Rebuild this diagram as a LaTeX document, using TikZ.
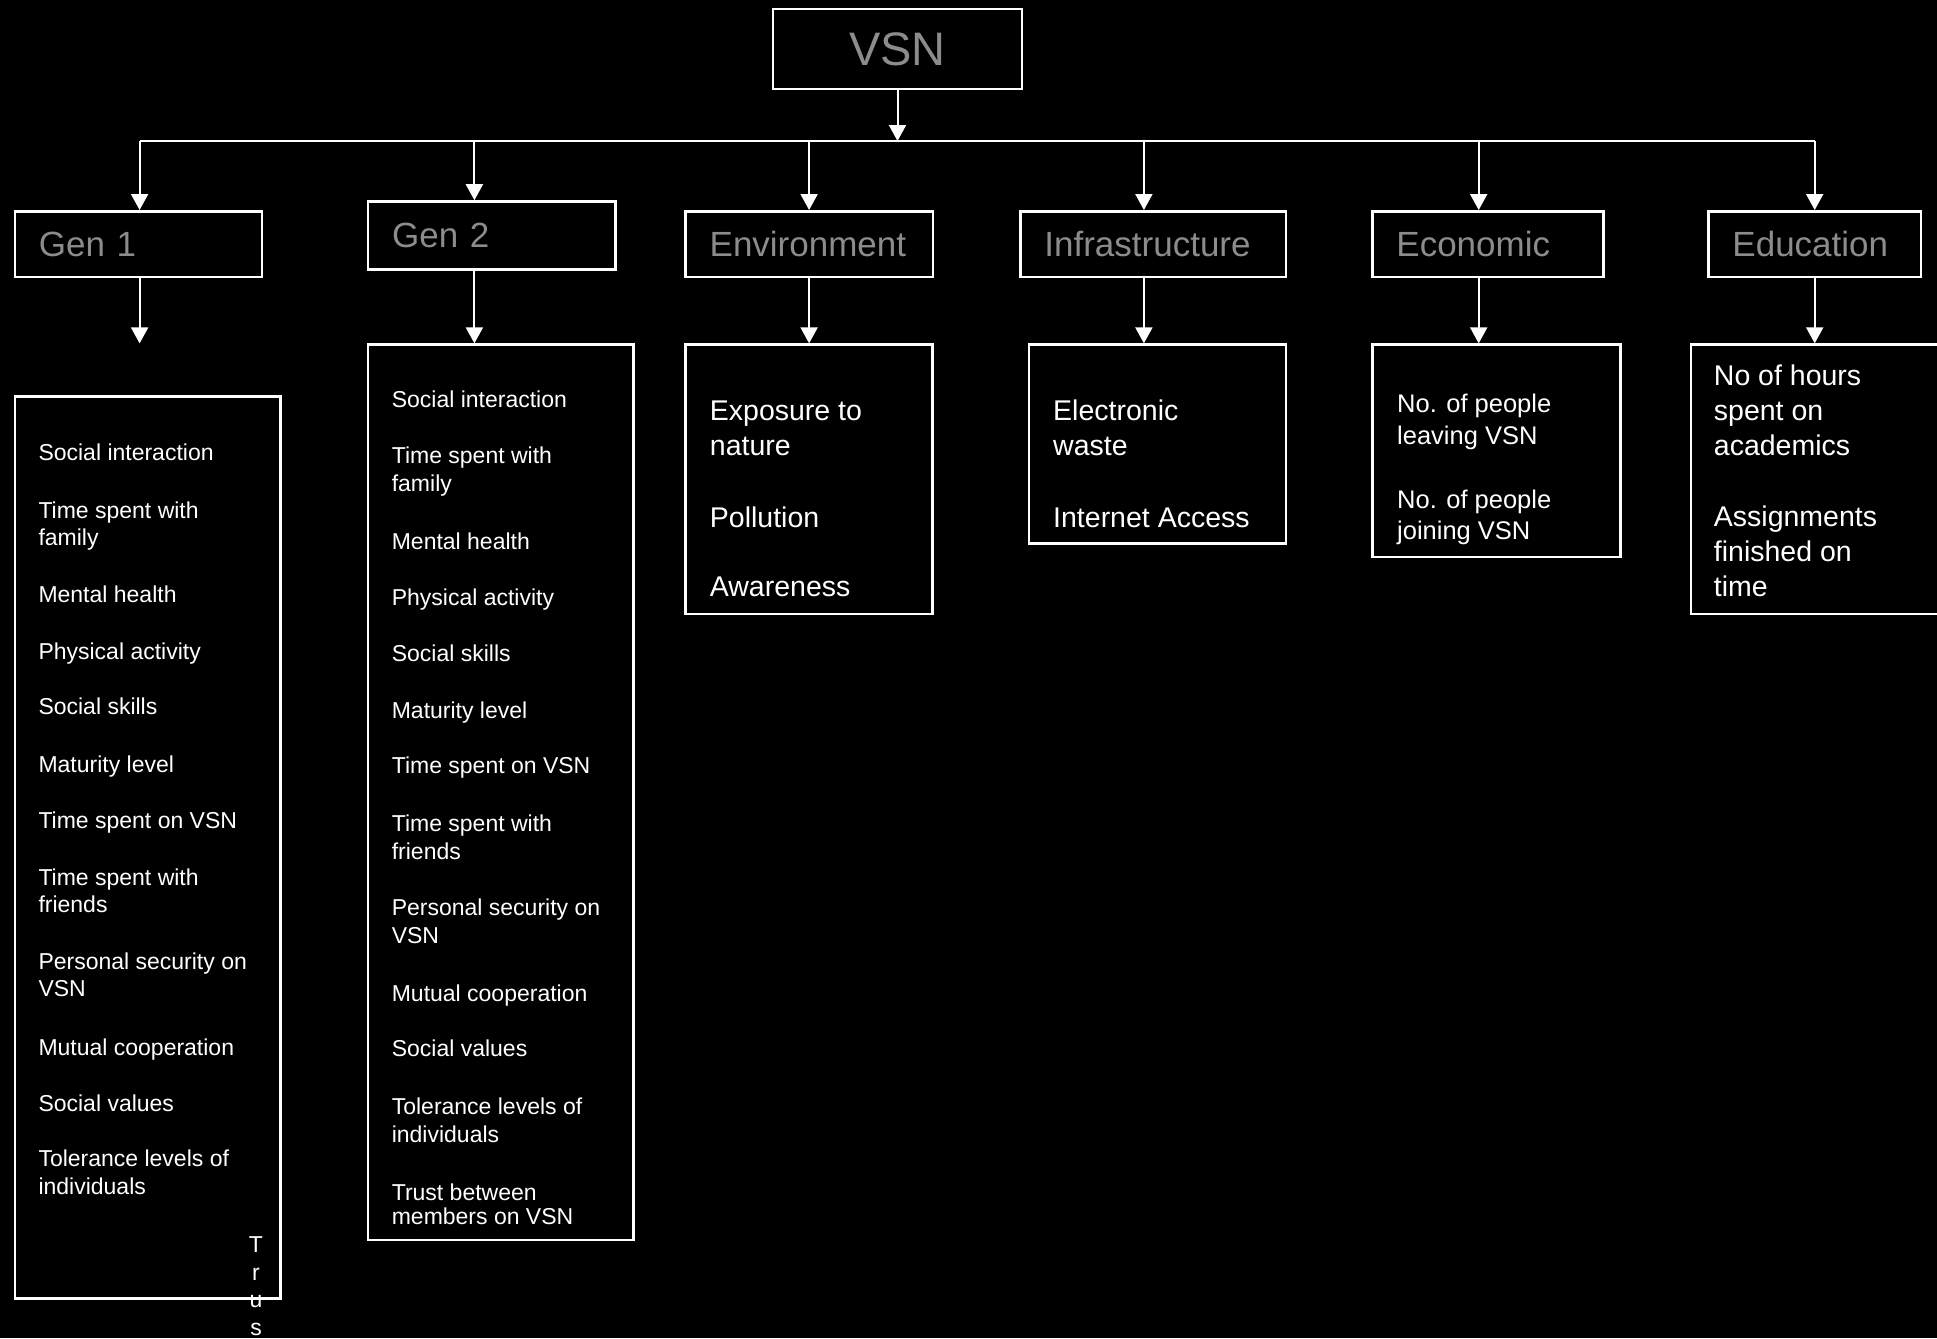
\documentclass[tikz,border=0pt]{standalone}
\usepackage{fontspec}
\newfontfamily\arial{Liberation Sans}
\usetikzlibrary{arrows.meta}
\definecolor{headgray}{HTML}{8C8C8C}
\begin{document}
\begin{tikzpicture}[x=1pt,y=-1pt,
    box/.style={draw=white, line width=2.5pt, inner sep=0pt},
    head/.style={box, minimum height=65.5pt, inner xsep=24pt, align=left, text=headgray, font=\arial\fontsize{35}{40}\selectfont},
    conn/.style={draw=white, line width=2pt, -{Triangle[width=17pt,length=16pt]}},
    item/.style={anchor=base west, inner sep=0pt, text=white, font=\arial\fontsize{23}{27.7}\selectfont},
    bigitem/.style={item, font=\arial\fontsize{28.5}{35}\selectfont},
    ecoitem/.style={item, font=\arial\fontsize{25.5}{31}\selectfont}]
        % background
        \fill[black] (0,0) rectangle (1937,1338);
        \clip (0,0) rectangle (1937,1338);
        % top box
        \node[box, minimum width=249pt, minimum height=80pt, text=headgray, font=\arial\fontsize{47}{50}\selectfont] (vsn) at (897.5,49) {VSN};
        % headers
        \node[head, text width=199.1pt] (gen1) at (138.4,244) {Gen 1};
        \node[head, text width=199.1pt, minimum height=67.9pt] (gen2) at (491.7,235.4) {Gen 2};
        \node[head, text width=199.1pt] (env) at (809.2,244) {Environment};
        \node[head, text width=217.6pt] (infra) at (1153.2,244) {Infrastructure};
        \node[head, text width=183pt] (econ) at (1487.9,244) {Economic};
        \node[head, text width=164.5pt] (edu) at (1814.7,244) {Education};
        % list boxes
        \node[box, minimum width=265.6pt, minimum height=901.8pt] (gen1list) at (147.6,847.4) {};
        \node[box, minimum width=265.6pt, minimum height=895.3pt] (gen2list) at (500.9,792.25) {};
        \node[box, minimum width=247.1pt, minimum height=269.3pt] (envlist) at (809.15,479.25) {};
        \node[box, minimum width=257pt, minimum height=198.9pt] (infralist) at (1157.5,444.05) {};
        \node[box, minimum width=248.3pt, minimum height=212.5pt] (econlist) at (1496.55,450.85) {};
        \node[box, minimum width=258.9pt, minimum height=269.3pt] (edulist) at (1820.55,479.25) {};
        % bus line
        \coordinate (b1) at (139.6,141);\coordinate (b2) at (474.4,141);\coordinate (b3) at (809.1,141);
        \coordinate (b4) at (1143.9,141);\coordinate (b5) at (1478.7,141);\coordinate (b6) at (1814.7,141);
        \coordinate (g1end) at (139.6,343.4);
        \draw[white, line width=2pt] (b1) -- (b6);
        \draw[conn] (vsn.south) -- (vsn.south |- b1);
        % arrows into headers
        \draw[conn] (b1) -- (b1 |- gen1.north);\draw[conn] (b2) -- (b2 |- gen2.north);
        \draw[conn] (b3) -- (b3 |- env.north);\draw[conn] (b4) -- (b4 |- infra.north);
        \draw[conn] (b5) -- (b5 |- econ.north);\draw[conn] (b6) -- (b6 |- edu.north);
        % arrows into lists
        \draw[conn] (b1 |- gen1.south) -- (g1end);\draw[conn] (b2 |- gen2.south) -- (b2 |- gen2list.north);
        \draw[conn] (b3 |- env.south) -- (b3 |- envlist.north);\draw[conn] (b4 |- infra.south) -- (b4 |- infralist.north);
        \draw[conn] (b5 |- econ.south) -- (b5 |- econlist.north);\draw[conn] (b6 |- edu.south) -- (b6 |- edulist.north);
        % gen 1 items
        \node[item] (g1a) at (38.3,460.4) {Social interaction};
        \node[item] (g1b) at (38.3,518.2) {Time spent with};
        \node[item] (g1c) at (38.3,545.9) {family};
        \node[item] (g1d) at (38.3,602.2) {Mental health};
        \node[item] (g1e) at (38.3,659.0) {Physical activity};
        \node[item] (g1f) at (38.3,714.6) {Social skills};
        \node[item] (g1g) at (38.3,772.7) {Maturity level};
        \node[item] (g1h) at (38.3,828.2) {Time spent on VSN};
        \node[item] (g1i) at (38.3,885.1) {Time spent with};
        \node[item] (g1j) at (38.3,912.8) {friends};
        \node[item] (g1k) at (38.3,969.1) {Personal security on};
        \node[item] (g1l) at (38.3,996.8) {VSN};
        \node[item] (g1m) at (38.3,1055.5) {Mutual cooperation};
        \node[item] (g1n) at (38.3,1111.1) {Social values};
        \node[item] (g1o) at (38.3,1166.7) {Tolerance levels of};
        \node[item] (g1p) at (38.3,1194.4) {individuals};
        \node[item, anchor=north, align=center] (g1q) at (256,1236.5) {T\\r\\u\\s};
        % gen 2 items
        \node[item] (g2a) at (391.6,407.0) {Social interaction};
        \node[item] (g2b) at (391.6,463.8) {Time spent with};
        \node[item] (g2c) at (391.6,491.5) {family};
        \node[item] (g2d) at (391.6,549.1) {Mental health};
        \node[item] (g2e) at (391.6,605.9) {Physical activity};
        \node[item] (g2f) at (391.6,661.5) {Social skills};
        \node[item] (g2g) at (391.6,718.3) {Maturity level};
        \node[item] (g2h) at (391.6,773.9) {Time spent on VSN};
        \node[item] (g2i) at (391.6,831.9) {Time spent with};
        \node[item] (g2j) at (391.6,859.6) {friends};
        \node[item] (g2k) at (391.6,915.9) {Personal security on};
        \node[item] (g2l) at (391.6,943.6) {VSN};
        \node[item] (g2m) at (391.6,1001.2) {Mutual cooperation};
        \node[item] (g2n) at (391.6,1056.8) {Social values};
        \node[item] (g2o) at (391.6,1114.8) {Tolerance levels of};
        \node[item] (g2p) at (391.6,1142.5) {individuals};
        \node[item] (g2q) at (391.6,1200.7) {Trust between};
        \node[item] (g2r) at (391.6,1224.3) {members on VSN};
        % environment items
        \node[bigitem] (enva) at (709.7,420.4) {Exposure to};
        \node[bigitem] (envb) at (709.7,455.4) {nature};
        \node[bigitem] (envc) at (709.7,527) {Pollution};
        \node[bigitem] (envd) at (709.7,596.8) {Awareness};
        % infrastructure items
        \node[bigitem] (infa) at (1053,420.4) {Electronic};
        \node[bigitem] (infb) at (1053,455.4) {waste};
        \node[bigitem] (infc) at (1053,527) {Internet Access};
        % economic items
        \node[ecoitem] (ecoa) at (1397,412.7) {No. of people};
        \node[ecoitem] (ecob) at (1397,444) {leaving VSN};
        \node[ecoitem] (ecoc) at (1397,508.3) {No. of people};
        \node[ecoitem] (ecod) at (1397,539.5) {joining VSN};
        % education items
        \node[bigitem] (edua) at (1713.7,385) {No of hours};
        \node[bigitem] (edub) at (1713.7,420) {spent on};
        \node[bigitem] (educ) at (1713.7,455.5) {academics};
        \node[bigitem] (edud) at (1713.7,526.7) {Assignments};
        \node[bigitem] (edue) at (1713.7,561.5) {finished on};
        \node[bigitem] (eduf) at (1713.7,596.8) {time};
    \end{tikzpicture}
\end{document}
